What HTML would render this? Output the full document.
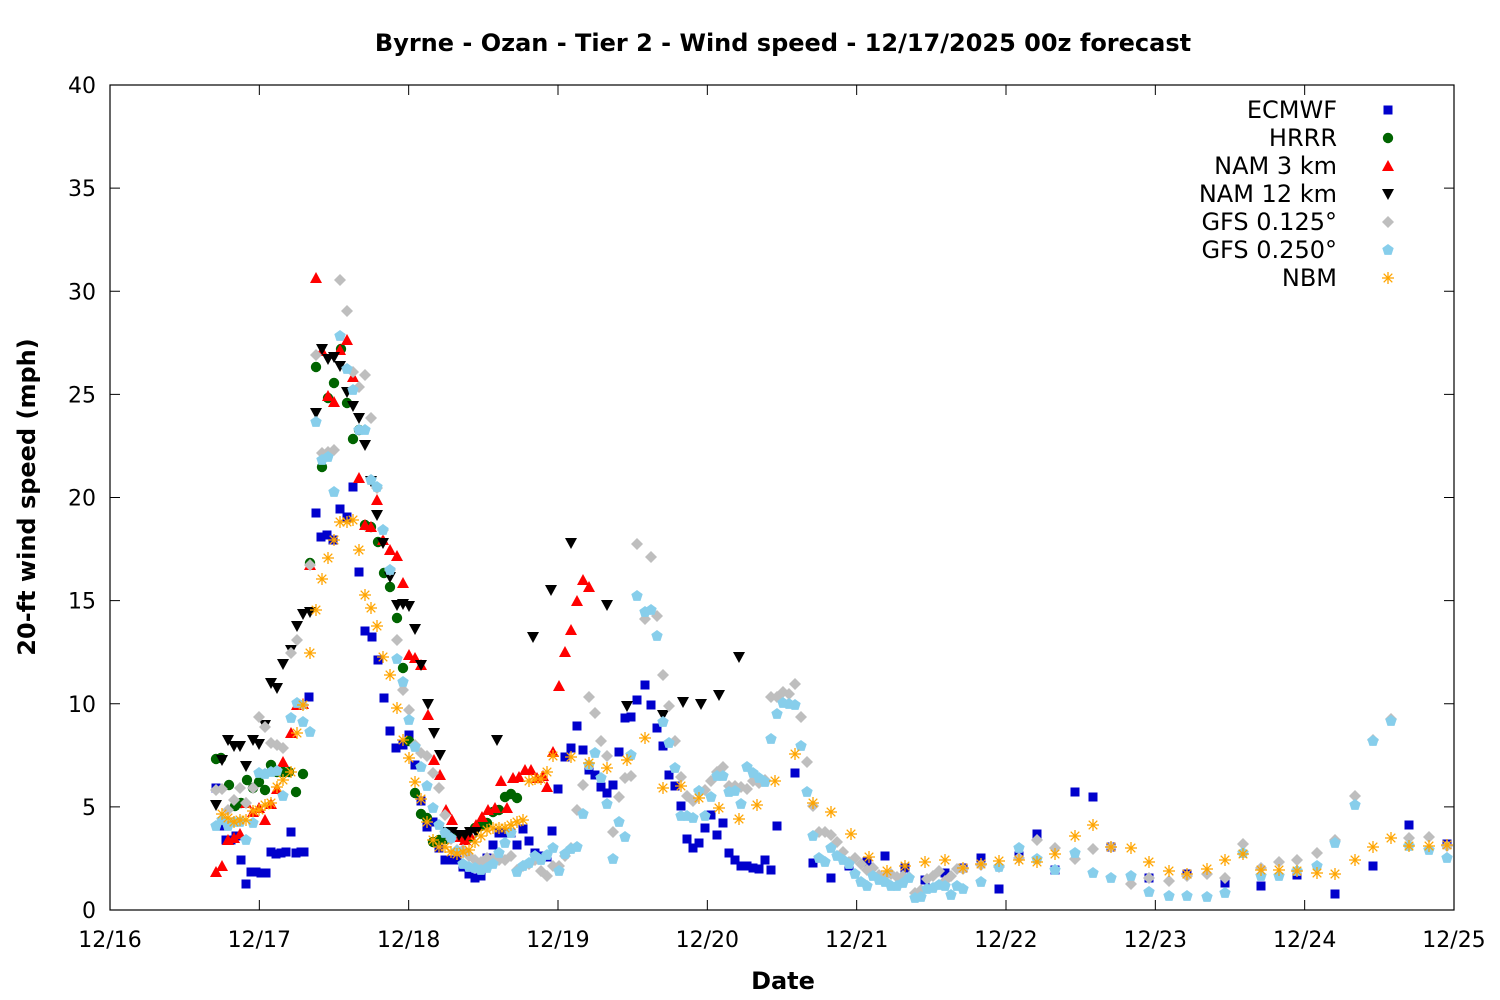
<!DOCTYPE html>
<html><head><meta charset="utf-8"><style>
html,body{margin:0;padding:0;background:#fff}
svg{display:block;font-family:"DejaVu Sans","Liberation Sans",sans-serif}
</style></head><body>
<svg id="s" width="1500" height="1000" xmlns="http://www.w3.org/2000/svg">
<rect width="1500" height="1000" fill="#fff"/>
<text x="783" y="51" font-size="24" font-weight="bold" text-anchor="middle">Byrne - Ozan - Tier 2 - Wind speed - 12/17/2025 00z forecast</text>
<text x="783" y="989" font-size="24" font-weight="bold" text-anchor="middle">Date</text>
<text transform="translate(35,497) rotate(-90)" font-size="24" font-weight="bold" text-anchor="middle">20-ft wind speed (mph)</text>
<g id="ax"></g>
<rect x="110" y="85" width="1344" height="825" fill="none" stroke="#000" stroke-width="1.2"/>
<g id="pts"></g>
<g font-size="24" text-anchor="end">
<text x="1337" y="118">ECMWF</text>
<text x="1337" y="146">HRRR</text>
<text x="1337" y="174">NAM 3 km</text>
<text x="1337" y="202">NAM 12 km</text>
<text x="1337" y="230">GFS 0.125°</text>
<text x="1337" y="258">GFS 0.250°</text>
<text x="1337" y="286">NBM</text>
</g>
</svg>
<script>
const NS="http://www.w3.org/2000/svg";
const ax=document.getElementById('ax'),P=document.getElementById('pts');
function el(t,a,p){const e=document.createElementNS(NS,t);for(const k in a)e.setAttribute(k,a[k]);(p||P).appendChild(e);return e;}
for(let v=0;v<=40;v+=5){const y=910-v*20.625;
el('line',{x1:110,x2:120,y1:y,y2:y,stroke:'#000'},ax);el('line',{x1:1444,x2:1454,y1:y,y2:y,stroke:'#000'},ax);
const t=el('text',{x:96,y:y+8,'font-size':22,'text-anchor':'end'},ax);t.textContent=v;}
for(let d=0;d<=9;d++){const x=110+d*149.333;
el('line',{x1:x,x2:x,y1:910,y2:900,stroke:'#000'},ax);el('line',{x1:x,x2:x,y1:85,y2:95,stroke:'#000'},ax);
const t=el('text',{x:x,y:947,'font-size':22,'text-anchor':'middle'},ax);t.textContent='12/'+(16+d);}
function parse(s){return s.match(/\(\d+,\d+\)/g).map(q=>q.slice(1,-1).split(',').map(Number));}
function mk(type,col,x,y){
 if(type=='sq')el('rect',{x:x-4.5,y:y-4.5,width:9,height:9,fill:col});
 else if(type=='ci')el('circle',{cx:x,cy:y,r:5.2,fill:col});
 else if(type=='tu')el('polygon',{points:`${x},${y-6} ${x-6},${y+5} ${x+6},${y+5}`,fill:col});
 else if(type=='td')el('polygon',{points:`${x},${y+6} ${x-6},${y-5} ${x+6},${y-5}`,fill:col});
 else if(type=='di')el('polygon',{points:`${x},${y-6} ${x+6},${y} ${x},${y+6} ${x-6},${y}`,fill:col});
 else if(type=='pe')el('polygon',{points:`${x},${y-6} ${x+5.7},${y-1.9} ${x+3.5},${y+4.9} ${x-3.5},${y+4.9} ${x-5.7},${y-1.9}`,fill:col});
 else if(type=='as'){const g=el('g',{stroke:col,'stroke-width':1.3});
  el('line',{x1:x-6,x2:x+6,y1:y,y2:y},g);el('line',{x1:x,x2:x,y1:y-6,y2:y+6},g);
  el('line',{x1:x-4.3,x2:x+4.3,y1:y-4.3,y2:y+4.3},g);el('line',{x1:x-4.3,x2:x+4.3,y1:y+4.3,y2:y-4.3},g);}
}
const S=[
['sq','#0000cc',"(216,788),(221,826),(226,840),(231,840),(236,836),(241,860),(246,884),(251,872),(256,872),(261,873),(266,873),(271,852),(276,854),(281,853),(286,852),(291,832),(296,853),(301,852),(304,852),(309,697),(316,513),(321,537),(327,535),(333,540),(340,509),(347,517),(353,487),(359,572),(365,631),(372,637),(378,660),(384,698),(390,731),(396,748),(403,745),(409,735),(415,765),(421,801),(427,827),(433,822),(439,848),(445,860),(451,860),(457,860),(463,867),(469,874),(475,878),(481,876),(487,858),(493,845),(499,833),(505,833),(511,833),(517,845),(523,829),(529,841),(535,853),(541,856),(547,857),(552,831),(558,789),(565,757),(571,748),(577,726),(583,750),(589,770),(595,775),(601,787),(607,793),(613,785),(619,752),(625,718),(631,717),(637,700),(645,685),(651,705),(657,728),(663,746),(669,775),(675,786),(681,806),(687,839),(693,848),(699,843),(705,828),(711,815),(717,835),(723,823),(729,853),(735,860),(741,866),(747,866),(753,868),(759,869),(765,860),(771,870),(777,826),(795,773),(813,863),(831,878),(849,866),(867,862),(885,856),(905,868),(925,880),(945,873),(963,868),(981,858),(999,889),(1019,856),(1037,834),(1055,870),(1075,792),(1093,797),(1111,847),(1149,878),(1187,874),(1225,883),(1261,886),(1297,875),(1335,894),(1373,866),(1409,825),(1447,844),(1388,110)"],
['ci','#006400',"(216,759),(221,758),(229,785),(235,806),(241,803),(247,780),(253,788),(259,782),(265,790),(271,765),(277,772),(283,772),(289,772),(296,792),(303,774),(310,563),(316,367),(322,467),(328,398),(334,383),(341,349),(347,403),(353,439),(359,430),(365,525),(371,527),(378,542),(384,573),(390,587),(397,618),(403,668),(409,741),(415,793),(421,814),(427,818),(433,842),(439,840),(445,839),(451,837),(457,836),(463,838),(469,838),(475,828),(481,826),(487,823),(493,812),(499,810),(505,797),(511,794),(517,798),(1388,138)"],
['tu','#ff0000',"(216,872),(222,866),(228,840),(234,838),(240,834),(246,803),(253,812),(259,808),(265,820),(271,804),(277,789),(283,762),(291,733),(297,705),(303,704),(310,565),(316,278),(322,351),(328,396),(334,402),(340,350),(347,340),(353,377),(359,478),(365,525),(371,527),(377,500),(383,540),(390,550),(397,556),(403,583),(409,655),(415,658),(421,665),(428,715),(434,760),(440,775),(446,810),(452,820),(459,837),(465,840),(470,835),(476,825),(482,817),(488,810),(495,808),(501,781),(507,808),(513,778),(519,777),(525,770),(531,770),(537,778),(543,776),(547,787),(553,752),(559,686),(565,652),(571,630),(577,601),(583,580),(589,587),(1388,166)"],
['td','#000000',"(216,805),(222,760),(228,740),(234,746),(240,746),(246,766),(253,740),(259,744),(265,725),(271,683),(277,688),(283,664),(291,650),(297,626),(303,614),(310,612),(316,413),(322,349),(328,359),(334,357),(340,366),(347,392),(353,406),(359,418),(365,445),(371,481),(377,515),(383,543),(390,577),(397,605),(403,604),(409,606),(415,629),(421,665),(428,704),(434,733),(440,755),(446,832),(452,832),(459,835),(465,835),(470,832),(476,832),(497,740),(533,637),(551,590),(571,543),(607,605),(627,706),(663,715),(683,702),(701,704),(719,695),(739,657),(1388,194)"],
['di','#bebebe',"(216,790),(222,789),(228,810),(234,800),(240,788),(246,803),(253,788),(259,717),(265,727),(271,743),(277,745),(283,748),(291,653),(297,640),(303,705),(310,565),(316,355),(322,453),(328,452),(334,450),(340,280),(347,311),(353,372),(359,387),(365,375),(371,418),(377,488),(383,530),(390,570),(397,640),(403,690),(409,710),(415,745),(421,753),(427,756),(433,773),(439,788),(445,815),(451,839),(457,850),(463,850),(469,856),(475,860),(481,862),(487,858),(493,859),(499,860),(505,860),(511,856),(517,870),(523,866),(529,864),(535,860),(541,871),(547,876),(553,866),(559,866),(565,856),(571,848),(577,810),(583,785),(589,697),(595,713),(601,741),(607,756),(613,832),(619,797),(625,778),(631,776),(637,544),(645,619),(651,557),(657,616),(663,675),(669,706),(675,741),(681,777),(687,796),(693,801),(699,791),(705,790),(711,781),(717,772),(723,767),(729,786),(735,786),(741,787),(747,789),(753,781),(759,783),(765,780),(771,697),(777,697),(783,692),(789,694),(795,684),(801,717),(807,762),(813,806),(819,832),(825,832),(831,835),(837,842),(843,852),(849,862),(855,858),(861,864),(867,870),(873,868),(879,875),(885,876),(891,874),(897,877),(903,876),(909,877),(915,893),(921,890),(927,879),(933,876),(939,871),(945,881),(951,876),(957,869),(963,869),(981,865),(999,867),(1019,858),(1037,840),(1055,848),(1075,859),(1093,849),(1111,847),(1131,884),(1149,878),(1169,881),(1187,876),(1207,874),(1225,878),(1243,844),(1261,868),(1279,862),(1297,860),(1317,853),(1335,840),(1355,796),(1373,740),(1391,719),(1409,838),(1429,837),(1447,846),(1388,222)"],
['pe','#87ceeb',"(216,826),(222,820),(228,826),(234,822),(240,822),(246,840),(253,823),(259,773),(265,774),(271,772),(277,771),(283,796),(291,718),(297,703),(303,722),(310,732),(316,422),(322,460),(328,457),(334,492),(340,336),(347,369),(353,390),(359,430),(365,430),(371,480),(377,487),(383,530),(390,570),(397,659),(403,682),(409,720),(415,747),(421,767),(427,786),(433,808),(439,825),(445,833),(451,838),(457,851),(463,864),(469,867),(475,868),(481,870),(487,868),(493,864),(499,853),(505,843),(511,833),(517,872),(523,866),(529,863),(535,856),(541,860),(547,855),(553,848),(559,871),(565,854),(571,849),(577,847),(583,814),(589,765),(595,753),(601,778),(607,804),(613,859),(619,822),(625,837),(631,755),(637,596),(645,612),(651,610),(657,636),(663,722),(669,743),(675,768),(681,816),(687,816),(693,818),(699,791),(705,816),(711,797),(717,776),(723,776),(729,792),(735,791),(741,804),(747,767),(753,773),(759,778),(765,782),(771,739),(777,714),(783,703),(789,704),(795,705),(801,746),(807,792),(813,836),(819,858),(825,862),(831,848),(837,856),(843,860),(849,864),(855,874),(861,882),(867,886),(873,876),(879,880),(885,882),(891,886),(897,886),(903,883),(909,878),(915,898),(921,897),(927,889),(933,888),(939,885),(945,886),(951,895),(957,886),(963,889),(981,882),(999,867),(1019,848),(1037,859),(1055,870),(1075,853),(1093,873),(1111,878),(1131,876),(1149,892),(1169,896),(1187,896),(1207,897),(1225,893),(1243,853),(1261,876),(1279,876),(1297,871),(1317,866),(1335,843),(1355,805),(1373,741),(1391,721),(1409,846),(1429,850),(1447,858),(1388,250)"],
['as','#ffa500',"(222,814),(228,818),(234,822),(240,820),(246,820),(253,811),(259,810),(265,805),(271,803),(277,787),(283,780),(291,772),(297,733),(303,705),(310,653),(316,610),(322,579),(328,558),(334,540),(340,522),(347,522),(353,520),(359,550),(365,595),(371,608),(377,626),(383,657),(390,675),(397,708),(403,740),(409,758),(415,782),(421,799),(427,822),(433,840),(439,847),(445,847),(451,852),(457,854),(463,852),(469,850),(475,842),(481,836),(487,830),(493,828),(499,828),(505,828),(511,825),(517,822),(523,820),(529,781),(535,779),(541,779),(547,772),(553,756),(571,757),(589,763),(607,768),(627,760),(645,738),(663,788),(681,786),(699,798),(719,808),(739,819),(757,805),(775,781),(795,754),(813,803),(831,812),(851,834),(869,857),(887,871),(905,866),(925,862),(945,860),(963,868),(981,864),(999,861),(1019,860),(1037,862),(1055,854),(1075,836),(1093,825),(1111,847),(1131,848),(1149,862),(1169,871),(1187,874),(1207,869),(1225,860),(1243,854),(1261,870),(1279,870),(1297,871),(1317,873),(1335,874),(1355,860),(1373,847),(1391,838),(1409,846),(1429,846),(1447,845),(1388,278)"]
];
for(const [t,c,s] of S)for(const [x,y] of parse(s))mk(t,c,x,y);
</script>
</body></html>
